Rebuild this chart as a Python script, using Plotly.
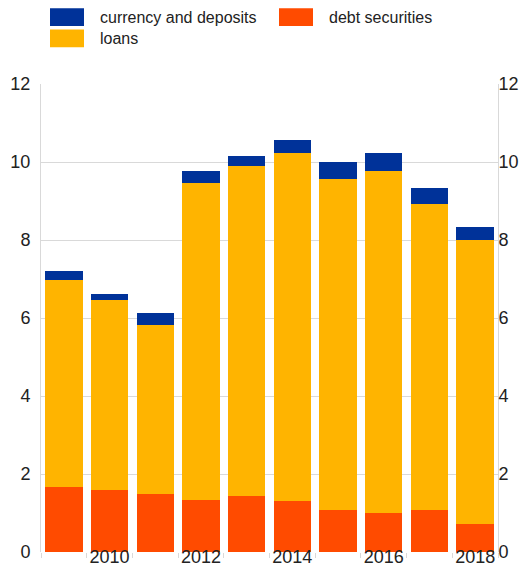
import plotly.graph_objects as go

years = [2009, 2010, 2011, 2012, 2013, 2014, 2015, 2016, 2017, 2018]
debt_securities = [1.67, 1.60, 1.48, 1.34, 1.44, 1.32, 1.07, 1.00, 1.08, 0.73]
loans = [5.31, 4.86, 4.34, 8.13, 8.45, 8.90, 8.49, 8.76, 7.85, 7.27]
currency_deposits = [0.23, 0.16, 0.30, 0.29, 0.27, 0.34, 0.43, 0.47, 0.40, 0.34]

x_labels = [2010, 2012, 2014, 2016, 2018]
x_ticks = [y - 0.5 for y in years] + [years[-1] + 0.5]
y_ticks = [0, 2, 4, 6, 8, 10, 12]

BLUE = "#003299"
YELLOW = "#FFB400"
ORANGE = "#FF4B00"
GRID = "#d9d9d9"

# the page body keeps its default 8px margin, so the figure is made small
# enough that the page does not overflow the 532x576 window
OFF = 8
W, H = 532 - 2 * OFF, 576 - 2 * OFF
L, T = 41 - OFF, 84 - OFF
R = W - (498 - OFF)
B = H - (552 - OFF)
PW, PH = W - L - R, H - T - B


def px(x):
    # page pixels -> paper coords
    return (x - OFF - L) / PW


def py(y):
    return (H - B - (y - OFF)) / PH


fig = go.Figure()
for name, vals, col in [("debt securities", debt_securities, ORANGE),
                        ("loans", loans, YELLOW),
                        ("currency and deposits", currency_deposits, BLUE)]:
    fig.add_trace(go.Bar(x=years, y=vals, name=name, marker=dict(color=col, line=dict(width=0)),
                         showlegend=False))

# legend drawn by hand (big swatches)
legend_items = [("currency and deposits", BLUE, 50, 8.3),
                ("debt securities", ORANGE, 279, 8.3),
                ("loans", YELLOW, 50, 29.5)]
for text, col, lx, ly in legend_items:
    fig.add_shape(type="rect", xref="paper", yref="paper",
                  x0=px(lx), x1=px(lx + 34), y0=py(ly), y1=py(ly + 17.7),
                  fillcolor=col, line=dict(width=0))
    fig.add_annotation(xref="paper", yref="paper", x=px(lx + 48), y=py(ly + 9.5),
                       text=text, showarrow=False, xanchor="left", yanchor="middle",
                       font=dict(size=16, color="#222222"))

fig.update_layout(
    width=W, height=H,
    margin=dict(l=L, r=R, t=T, b=B, pad=0, autoexpand=False),
    barmode="stack",
    bargap=0.18,
    plot_bgcolor="white",
    paper_bgcolor="white",
    font=dict(family="Liberation Sans, Arial, sans-serif", size=18, color="#222222"),
    xaxis=dict(
        range=[2008.5, 2018.5], tickvals=x_labels, ticks="", showgrid=False,
        showline=False, zeroline=False, ticklabelstandoff=-8, automargin=False,
    ),
    xaxis2=dict(
        overlaying="x", matches="x", range=[2008.5, 2018.5],
        tickvals=x_ticks,
        showticklabels=False, ticks="outside", ticklen=5, tickcolor=GRID,
        showgrid=False, zeroline=False, side="bottom",
    ),
    yaxis=dict(
        range=[0, 12], tickvals=y_ticks, showgrid=True, gridcolor=GRID, gridwidth=1,
        showline=True, linecolor=GRID, linewidth=1, zeroline=False, ticks="",
        ticklabelstandoff=6, automargin=False,
    ),
    yaxis2=dict(
        overlaying="y", matches="y", side="right", range=[0, 12], tickvals=y_ticks,
        showgrid=False, showline=True, linecolor=GRID, linewidth=1, zeroline=False,
        ticks="", ticklabelstandoff=-4, automargin=False,
    ),
)

# invisible trace to anchor the secondary axes
fig.add_trace(go.Scatter(x=[2009], y=[0], xaxis="x2", yaxis="y2", mode="markers",
                         marker=dict(opacity=0), showlegend=False, hoverinfo="skip"))

fig.write_html("out.html")
